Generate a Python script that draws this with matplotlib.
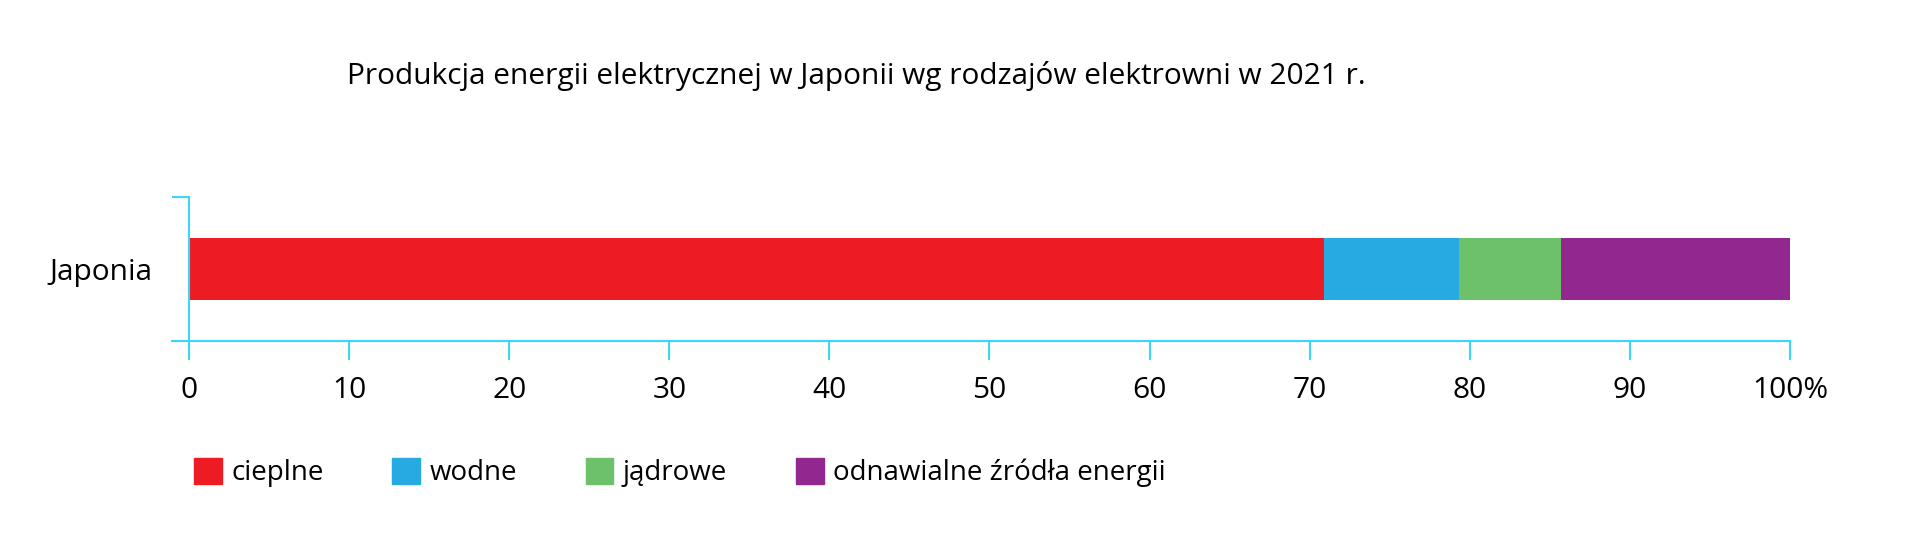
import matplotlib
matplotlib.use('Agg')
import matplotlib.pyplot as plt
from matplotlib.patches import Patch

plt.rcParams['font.family'] = ['Open Sans', 'DejaVu Sans']

# dane (%)
kraj = 'Japonia'
rodzaje = ['cieplne', 'wodne', 'jądrowe', 'odnawialne źródła energii']
udzialy = [70.9, 8.4, 6.4, 14.3]
kolory = ['#ED1C24', '#27AAE1', '#6CC16A', '#92278F']
ticki = [0, 10, 20, 30, 40, 50, 60, 70, 80, 90, 100]
etykiety = ['0', '10', '20', '30', '40', '50', '60', '70', '80', '90', '100%']

cyan = '#3AD7F7'

fig = plt.figure(figsize=(19.2, 5.37), dpi=100)
ax = fig.add_axes([172/1920, (537-341)/537, (1790-172)/1920, 144/537])

lewo = 0
for nazwa, v, k in zip(rodzaje, udzialy, kolory):
    ax.barh(0, v, left=lewo, height=0.43, color=k, label=nazwa)
    lewo += v

ax.set_xlim(-1.06, 100)
ax.set_ylim(-0.5, 0.5)
ax.spines['top'].set_visible(False)
ax.spines['right'].set_visible(False)
ax.spines['left'].set_position(('data', 0))
ax.spines['left'].set_color(cyan)
ax.spines['bottom'].set_color(cyan)
ax.spines['left'].set_linewidth(1.5)
ax.spines['bottom'].set_linewidth(1.5)

ax.set_xticks(ticki)
ax.set_xticklabels(etykiety, fontsize=21.5)
ax.tick_params(axis='x', colors=cyan, labelcolor='black', length=13.5, width=1.5, pad=11.5)

ax.set_yticks([0])
ax.set_yticklabels([kraj], fontsize=21.5)
ax.tick_params(axis='y', which='major', length=0, pad=26.5)
ax.set_yticks([0.5], minor=True)
ax.tick_params(axis='y', which='minor', length=12, width=1.5, color=cyan)

fig.text(856/1920, 1 - 76.5/537, 'Produkcja energii elektrycznej w Japonii wg rodzajów elektrowni w 2021 r.',
         ha='center', va='center', fontsize=21.5)

uchwyty = [Patch(color=k) for k in kolory]
fig.legend(uchwyty, rodzaje, loc='center left', bbox_to_anchor=(183/1920, 1 - 472.5/537),
           ncol=4, frameon=False, fontsize=20, handlelength=1.0, handleheight=1.1,
           handletextpad=0.33, columnspacing=2.48, borderaxespad=0)

fig.savefig('out.png', dpi=100)
